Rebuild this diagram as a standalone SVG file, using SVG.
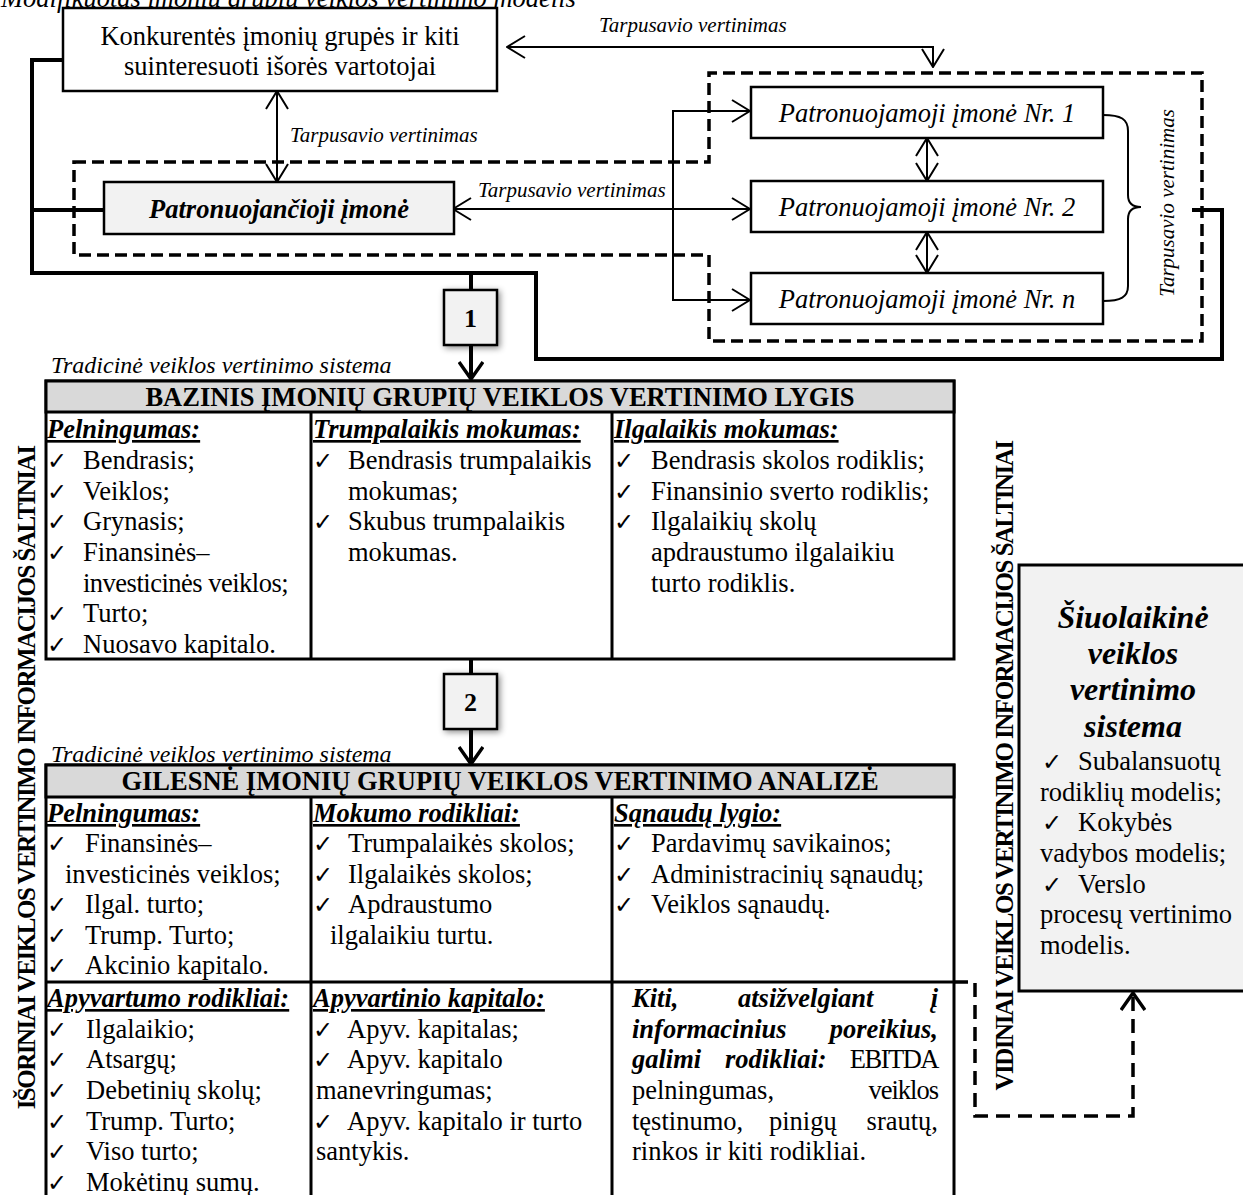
<svg xmlns="http://www.w3.org/2000/svg" width="1243" height="1195" viewBox="0 0 1243 1195">
  <style>
    text { font-family: "Liberation Serif", "Times New Roman", serif; fill: #000; }
    .t { font-size: 26.5px; }
    .i { font-size: 26.5px; font-style: italic; }
    .bi { font-size: 26.5px; font-style: italic; font-weight: bold; }
    .hd { font-size: 26.5px; font-style: italic; font-weight: bold; text-decoration: underline; }
    .cap { font-size: 26.5px; font-weight: bold; }
    .lbl { font-size: 21px; font-style: italic; }
    .ck { font-family: "DejaVu Sans", sans-serif; font-size: 24px; font-style: normal; font-weight: normal; }
    .vt { font-size: 25px; font-weight: bold; letter-spacing: -1.5px; }
    .num { font-size: 26px; font-weight: bold; }
    .box { fill: #fff; stroke: #000; stroke-width: 2.5; }
    .gbox { fill: #f2f2f2; stroke: #000; stroke-width: 2.5; }
    .band { fill: #d9d9d9; stroke: #000; stroke-width: 3; }
    .grid { fill: none; stroke: #000; stroke-width: 3; }
    .thin { fill: none; stroke: #000; stroke-width: 2; }
    .thick { fill: none; stroke: #000; stroke-width: 4; stroke-linejoin: miter; }
    .dash { fill: none; stroke: #000; stroke-width: 3.5; stroke-dasharray: 12 6; }
    .dash2 { fill: none; stroke: #000; stroke-width: 3.5; stroke-dasharray: 14 8; }
  </style>
  <defs>
    <marker id="open" viewBox="0 0 20 24" refX="19" refY="12" markerWidth="20" markerHeight="24" markerUnits="userSpaceOnUse" orient="auto-start-reverse">
      <path d="M1,1 L19,12 L1,23" fill="none" stroke="#000" stroke-width="2"/>
    </marker>
    <marker id="heavy" viewBox="0 0 20 26" refX="18" refY="13" markerWidth="20" markerHeight="26" markerUnits="userSpaceOnUse" orient="auto">
      <path d="M1,1 L18,13 L1,25" fill="none" stroke="#000" stroke-width="3.5"/>
    </marker>
    <filter id="shadow" x="-40%" y="-40%" width="180%" height="180%">
      <feDropShadow dx="2" dy="2" stdDeviation="3" flood-color="#000" flood-opacity="0.45"/>
    </filter>
  </defs>

  <rect width="1243" height="1195" fill="#fff"/>

  <!-- title, partly above the top edge -->
  <text class="i" x="1" y="7">Modifikuotas įmonių grupių veiklos vertinimo modelis</text>

  <!-- connectors -->
  <g id="connectors">
    <path class="dash" d="M74,162 H709 V73 H1202 V341 H709 V255 H74 Z"/>
    <path class="thick" d="M63,60 H32 V273 H536 V359 H1222 V210 H1192"/>
    <path class="thick" d="M32,210 H104"/>
    <path class="thick" d="M471,273 V290"/>
    <path class="thick" d="M471,659 V674"/>
    <path class="thick" d="M471,345 V379" marker-end="url(#heavy)"/>
    <path class="thick" d="M471,729 V764" marker-end="url(#heavy)"/>
    <path class="thin" d="M933,67 V47 H507" marker-start="url(#open)" marker-end="url(#open)"/>
    <path class="thin" d="M277,91 V182" marker-start="url(#open)" marker-end="url(#open)"/>
    <path class="thin" d="M453,209 H750" marker-start="url(#open)" marker-end="url(#open)"/>
    <path class="thin" d="M750,111 H673 V300 H750" marker-start="url(#open)" marker-end="url(#open)"/>
    <path class="thin" d="M927,138 V181" marker-start="url(#open)" marker-end="url(#open)"/>
    <path class="thin" d="M927,232 V273" marker-start="url(#open)" marker-end="url(#open)"/>
    <path class="thin" d="M1103,115 C1121,115 1128,119 1128,131 V195 C1128,203 1132,207 1141,207 C1132,207 1128,211 1128,219 V286 C1128,297 1121,301 1103,301"/>
    <path class="dash2" d="M954,982 H975 V1116 H1133 V993" marker-end="url(#heavy)"/>
    <text class="lbl" x="599" y="32">Tarpusavio vertinimas</text>
    <text class="lbl" x="290" y="142">Tarpusavio vertinimas</text>
    <text class="lbl" x="478" y="197">Tarpusavio vertinimas</text>
    <text class="lbl" transform="translate(1174,203) rotate(-90)" text-anchor="middle">Tarpusavio vertinimas</text>
  </g>

  <!-- external users -->
  <g id="node-konkurentes">
    <rect class="box" x="63" y="8" width="434" height="83"/>
    <text class="t" x="280" y="45" text-anchor="middle">Konkurentės įmonių grupės ir kiti</text>
    <text class="t" x="280" y="75" text-anchor="middle">suinteresuoti išorės vartotojai</text>
  </g>

  <g id="node-patronuojancioji">
    <rect class="gbox" x="104" y="182" width="350" height="52"/>
    <text class="bi" x="279" y="218" text-anchor="middle">Patronuojančioji įmonė</text>
  </g>

  <g id="node-nr1">
    <rect class="box" x="751" y="87" width="352" height="51"/>
    <text class="i" x="927" y="122" text-anchor="middle">Patronuojamoji įmonė Nr. 1</text>
  </g>
  <g id="node-nr2">
    <rect class="box" x="751" y="181" width="352" height="51"/>
    <text class="i" x="927" y="216" text-anchor="middle">Patronuojamoji įmonė Nr. 2</text>
  </g>
  <g id="node-nrn">
    <rect class="box" x="751" y="273" width="352" height="51"/>
    <text class="i" x="927" y="308" text-anchor="middle">Patronuojamoji įmonė Nr. n</text>
  </g>

  <g id="step-1">
    <rect class="gbox" x="444" y="290" width="53" height="55" filter="url(#shadow)"/>
    <text class="num" x="470.5" y="327" text-anchor="middle">1</text>
  </g>
  <g id="step-2">
    <rect class="gbox" x="444" y="674" width="53" height="55" filter="url(#shadow)"/>
    <text class="num" x="470.5" y="711" text-anchor="middle">2</text>
  </g>

  <!-- side captions -->
  <g id="label-external">
    <text class="vt" transform="translate(35,778) rotate(-90)" text-anchor="middle">IŠORINIAI VEIKLOS VERTINIMO INFORMACIJOS ŠALTINIAI</text>
  </g>
  <g id="label-internal">
    <text class="vt" transform="translate(1013,766) rotate(-90)" text-anchor="middle">VIDINIAI VEIKLOS VERTINIMO INFORMACIJOS ŠALTINIAI</text>
  </g>

  <!-- base level table -->
  <g id="table-base">
    <text class="i" x="51" y="373" style="font-size:24px">Tradicinė veiklos vertinimo sistema</text>
    <rect class="grid" x="46" y="381" width="908" height="278"/>
    <rect class="band" x="46" y="381" width="908" height="31"/>
    <text class="cap" x="500" y="406" text-anchor="middle">BAZINIS ĮMONIŲ GRUPIŲ VEIKLOS VERTINIMO LYGIS</text>
    <path class="grid" d="M311,412 V659 M612,412 V659"/>

    <text class="hd" x="47" y="438">Pelningumas:</text>
    <text class="t" y="469"><tspan class="ck" x="47">✓</tspan><tspan x="83">Bendrasis;</tspan></text>
    <text class="t" y="500"><tspan class="ck" x="47">✓</tspan><tspan x="83">Veiklos;</tspan></text>
    <text class="t" y="530"><tspan class="ck" x="47">✓</tspan><tspan x="83">Grynasis;</tspan></text>
    <text class="t" y="561"><tspan class="ck" x="47">✓</tspan><tspan x="83">Finansinės–</tspan></text>
    <text class="t" x="83" y="592" style="letter-spacing:-0.5px">investicinės veiklos;</text>
    <text class="t" y="622"><tspan class="ck" x="47">✓</tspan><tspan x="83">Turto;</tspan></text>
    <text class="t" y="653"><tspan class="ck" x="47">✓</tspan><tspan x="83">Nuosavo kapitalo.</tspan></text>

    <text class="hd" x="313" y="438">Trumpalaikis mokumas:</text>
    <text class="t" y="469"><tspan class="ck" x="313">✓</tspan><tspan x="348">Bendrasis trumpalaikis</tspan></text>
    <text class="t" x="348" y="500">mokumas;</text>
    <text class="t" y="530"><tspan class="ck" x="313">✓</tspan><tspan x="348">Skubus trumpalaikis</tspan></text>
    <text class="t" x="348" y="561">mokumas.</text>

    <text class="hd" x="614" y="438">Ilgalaikis mokumas:</text>
    <text class="t" y="469"><tspan class="ck" x="614">✓</tspan><tspan x="651">Bendrasis skolos rodiklis;</tspan></text>
    <text class="t" y="500"><tspan class="ck" x="614">✓</tspan><tspan x="651">Finansinio sverto rodiklis;</tspan></text>
    <text class="t" y="530"><tspan class="ck" x="614">✓</tspan><tspan x="651">Ilgalaikių skolų</tspan></text>
    <text class="t" x="651" y="561">apdraustumo ilgalaikiu</text>
    <text class="t" x="651" y="592">turto rodiklis.</text>
  </g>

  <!-- deeper analysis table -->
  <g id="table-deep">
    <text class="i" x="51" y="762" style="font-size:24px">Tradicinė veiklos vertinimo sistema</text>
    <path class="grid" d="M46,1200 V765 H954 V1200 M311,797 V1200 M612,797 V1200 M46,982 H954"/>
    <rect class="band" x="46" y="765" width="908" height="32"/>
    <text class="cap" x="500" y="790" text-anchor="middle">GILESNĖ ĮMONIŲ GRUPIŲ VEIKLOS VERTINIMO ANALIZĖ</text>

    <text class="hd" x="47" y="822">Pelningumas:</text>
    <text class="t" y="852"><tspan class="ck" x="47">✓</tspan><tspan x="85">Finansinės–</tspan></text>
    <text class="t" x="65" y="883">investicinės veiklos;</text>
    <text class="t" y="913"><tspan class="ck" x="47">✓</tspan><tspan x="85">Ilgal. turto;</tspan></text>
    <text class="t" y="944"><tspan class="ck" x="47">✓</tspan><tspan x="85">Trump. Turto;</tspan></text>
    <text class="t" y="974"><tspan class="ck" x="47">✓</tspan><tspan x="85">Akcinio kapitalo.</tspan></text>

    <text class="hd" x="313" y="822">Mokumo rodikliai:</text>
    <text class="t" y="852"><tspan class="ck" x="313">✓</tspan><tspan x="348">Trumpalaikės skolos;</tspan></text>
    <text class="t" y="883"><tspan class="ck" x="313">✓</tspan><tspan x="348">Ilgalaikės skolos;</tspan></text>
    <text class="t" y="913"><tspan class="ck" x="313">✓</tspan><tspan x="348">Apdraustumo</tspan></text>
    <text class="t" x="330" y="944">ilgalaikiu turtu.</text>

    <text class="hd" x="614" y="822">Sąnaudų lygio:</text>
    <text class="t" y="852"><tspan class="ck" x="614">✓</tspan><tspan x="651">Pardavimų savikainos;</tspan></text>
    <text class="t" y="883"><tspan class="ck" x="614">✓</tspan><tspan x="651">Administracinių sąnaudų;</tspan></text>
    <text class="t" y="913"><tspan class="ck" x="614">✓</tspan><tspan x="651">Veiklos sąnaudų.</tspan></text>

    <text class="hd" x="47" y="1007">Apyvartumo rodikliai:</text>
    <text class="t" y="1038"><tspan class="ck" x="47">✓</tspan><tspan x="86">Ilgalaikio;</tspan></text>
    <text class="t" y="1068"><tspan class="ck" x="47">✓</tspan><tspan x="86">Atsargų;</tspan></text>
    <text class="t" y="1099"><tspan class="ck" x="47">✓</tspan><tspan x="86">Debetinių skolų;</tspan></text>
    <text class="t" y="1130"><tspan class="ck" x="47">✓</tspan><tspan x="86">Trump. Turto;</tspan></text>
    <text class="t" y="1160"><tspan class="ck" x="47">✓</tspan><tspan x="86">Viso turto;</tspan></text>
    <text class="t" y="1191"><tspan class="ck" x="47">✓</tspan><tspan x="86">Mokėtinų sumų.</tspan></text>

    <text class="hd" x="313" y="1007">Apyvartinio kapitalo:</text>
    <text class="t" y="1038"><tspan class="ck" x="313">✓</tspan><tspan x="347">Apyv. kapitalas;</tspan></text>
    <text class="t" y="1068"><tspan class="ck" x="313">✓</tspan><tspan x="347">Apyv. kapitalo</tspan></text>
    <text class="t" x="316" y="1099">manevringumas;</text>
    <text class="t" y="1130"><tspan class="ck" x="313">✓</tspan><tspan x="347">Apyv. kapitalo ir turto</tspan></text>
    <text class="t" x="316" y="1160">santykis.</text>

    <!-- justified paragraph -->
    <text class="bi" x="632" y="1007">Kiti,</text>
    <text class="bi" x="738" y="1007">atsižvelgiant</text>
    <text class="bi" x="938" y="1007" text-anchor="end">į</text>
    <text class="bi" x="632" y="1038">informacinius</text>
    <text class="bi" x="938" y="1038" text-anchor="end">poreikius,</text>
    <text class="bi" x="632" y="1068">galimi</text>
    <text class="bi" x="725" y="1068">rodikliai:</text>
    <text class="t" x="938" y="1068" text-anchor="end" style="letter-spacing:-1.5px">EBITDA</text>
    <text class="t" x="632" y="1099">pelningumas,</text>
    <text class="t" x="938" y="1099" text-anchor="end" style="letter-spacing:-1px">veiklos</text>
    <text class="t" x="632" y="1130">tęstinumo,</text>
    <text class="t" x="769" y="1130">pinigų</text>
    <text class="t" x="938" y="1130" text-anchor="end">srautų,</text>
    <text class="t" x="632" y="1160">rinkos ir kiti rodikliai.</text>
  </g>

  <!-- modern evaluation system -->
  <g id="node-siuolaikine">
    <rect class="gbox" x="1019" y="565" width="240" height="426" style="stroke-width:3"/>
    <text class="bi" x="1133" y="628" text-anchor="middle" style="font-size:32px">Šiuolaikinė</text>
    <text class="bi" x="1133" y="664" text-anchor="middle" style="font-size:32px">veiklos</text>
    <text class="bi" x="1133" y="700" text-anchor="middle" style="font-size:32px">vertinimo</text>
    <text class="bi" x="1133" y="737" text-anchor="middle" style="font-size:32px">sistema</text>
    <text class="t" y="770"><tspan class="ck" x="1042">✓</tspan><tspan x="1078">Subalansuotų</tspan></text>
    <text class="t" x="1040" y="801">rodiklių modelis;</text>
    <text class="t" y="831"><tspan class="ck" x="1042">✓</tspan><tspan x="1078">Kokybės</tspan></text>
    <text class="t" x="1040" y="862">vadybos modelis;</text>
    <text class="t" y="893"><tspan class="ck" x="1042">✓</tspan><tspan x="1078">Verslo</tspan></text>
    <text class="t" x="1040" y="923">procesų vertinimo</text>
    <text class="t" x="1040" y="954">modelis.</text>
  </g>
</svg>
